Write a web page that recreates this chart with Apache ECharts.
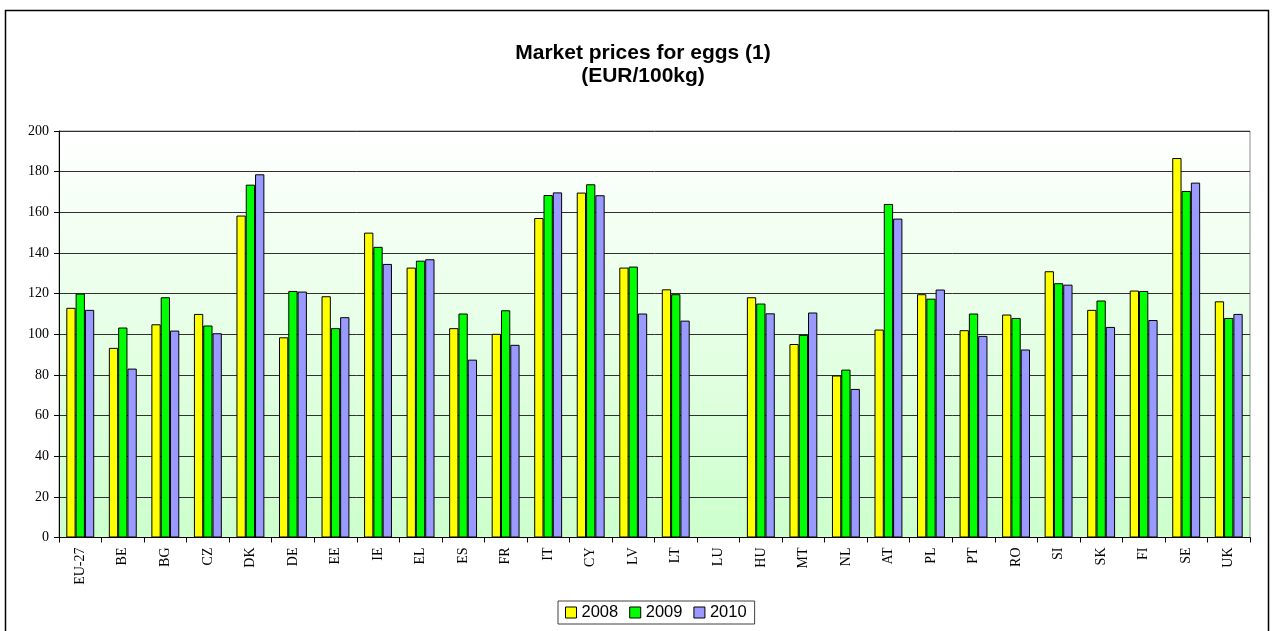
<!DOCTYPE html>
<html>
<head>
<meta charset="utf-8">
<title>Market prices for eggs</title>
<script src="https://cdn.jsdelivr.net/npm/echarts@6/dist/echarts.min.js"></script>
<style>
  html, body { margin: 0; padding: 0; background: #ffffff; }
  #chart { width: 1272px; height: 631px; }
</style>
</head>
<body>
<div id="chart"></div>
<script>
// Member states (EU-27 average first)
const countries = ['EU-27', 'BE', 'BG', 'CZ', 'DK', 'DE', 'EE', 'IE', 'EL', 'ES', 'FR', 'IT', 'CY', 'LV',
  'LT', 'LU', 'HU', 'MT', 'NL', 'AT', 'PL', 'PT', 'RO', 'SI', 'SK', 'FI', 'SE', 'UK'];

// Prices in EUR/100kg; LU has no reported price
const prices2008 = [113.0, 93.3, 104.9, 110.0, 158.4, 98.5, 118.7, 150.0, 132.8, 103.0, 100.2, 157.2, 169.7, 132.8,
  122.1, null, 118.2, 95.2, 79.7, 102.3, 119.7, 102.0, 109.7, 131.0, 112.0, 121.5, 186.7, 116.2];
const prices2009 = [120.0, 103.3, 118.2, 104.3, 173.6, 121.3, 103.0, 143.0, 136.2, 110.2, 111.8, 168.5, 173.8, 133.3,
  119.7, null, 115.1, 99.7, 82.6, 164.1, 117.5, 110.2, 108.0, 125.1, 116.6, 121.3, 170.5, 108.0];
const prices2010 = [112.0, 83.1, 101.8, 100.5, 178.7, 121.0, 108.4, 134.6, 136.9, 87.5, 94.8, 169.8, 168.4, 110.2,
  106.7, null, 110.3, 110.7, 73.1, 156.9, 122.0, 99.2, 92.5, 124.4, 103.6, 107.0, 174.6, 110.0];

const seriesNames = ['2008', '2009', '2010'];
const seriesColors = ['#ffff00', '#00ff00', '#9999ff'];
const seriesData = [prices2008, prices2009, prices2010];

const chart = echarts.init(document.getElementById('chart'), null, { renderer: 'canvas' });

const option = {
  animation: false,
  backgroundColor: '#ffffff',
  title: {
    text: 'Market prices for eggs (1)\n(EUR/100kg)',
    left: 638,
    textAlign: 'center',
    top: 37,
    textStyle: {
      fontFamily: '"Liberation Sans", Arial, sans-serif',
      fontWeight: 'bold',
      fontSize: 21,
      lineHeight: 23,
      color: '#000000'
    }
  },
  graphic: [{
    type: 'rect',
    silent: true,
    z: -1,
    shape: { x: 5.5, y: 10.5, width: 1263, height: 640 },
    style: { fill: 'none', stroke: '#000000', lineWidth: 1.5 }
  }],
  legend: {
    data: seriesNames,
    left: 558,
    top: 601,
    orient: 'horizontal',
    icon: 'rect',
    itemWidth: 11,
    itemHeight: 11,
    itemGap: 11,
    padding: [3, 8, 3, 7],
    borderColor: '#404040',
    borderWidth: 1,
    backgroundColor: '#ffffff',
    itemStyle: { borderColor: '#000000', borderWidth: 1 },
    textStyle: {
      fontFamily: '"Liberation Sans", Arial, sans-serif',
      fontSize: 16.5,
      color: '#000000'
    }
  },
  grid: {
    left: 59,
    right: 22,
    top: 131,
    bottom: 93.5,
    show: true,
    borderColor: '#8c8c8c',
    borderWidth: 1,
    backgroundColor: new echarts.graphic.LinearGradient(0, 0, 0, 1, [
      { offset: 0, color: '#ffffff' },
      { offset: 1, color: '#ccffcc' }
    ])
  },
  xAxis: {
    type: 'category',
    data: countries,
    boundaryGap: true,
    axisLine: { show: true, lineStyle: { color: '#000000', width: 1 } },
    axisTick: { show: true, length: 5, lineStyle: { color: '#000000' } },
    axisLabel: {
      rotate: 90,
      interval: 0,
      margin: 10,
      fontFamily: '"Liberation Serif", "Times New Roman", serif',
      fontSize: 14,
      color: '#000000'
    },
    splitLine: { show: false }
  },
  yAxis: {
    type: 'value',
    min: 0,
    max: 200,
    interval: 20,
    axisLine: { show: true, lineStyle: { color: '#000000', width: 1 } },
    axisTick: { show: true, length: 5, lineStyle: { color: '#000000' } },
    axisLabel: {
      margin: 10,
      fontFamily: '"Liberation Serif", "Times New Roman", serif',
      fontSize: 14,
      color: '#000000'
    },
    splitLine: { show: true, lineStyle: { color: '#303030', width: 1 } }
  },
  series: seriesNames.map((name, i) => ({
    name: name,
    type: 'bar',
    data: seriesData[i],
    barWidth: 9.3,
    barGap: '0%',
    itemStyle: {
      color: seriesColors[i],
      borderColor: '#000000',
      borderWidth: 1
    }
  }))
};

chart.setOption(option);
</script>
</body>
</html>
